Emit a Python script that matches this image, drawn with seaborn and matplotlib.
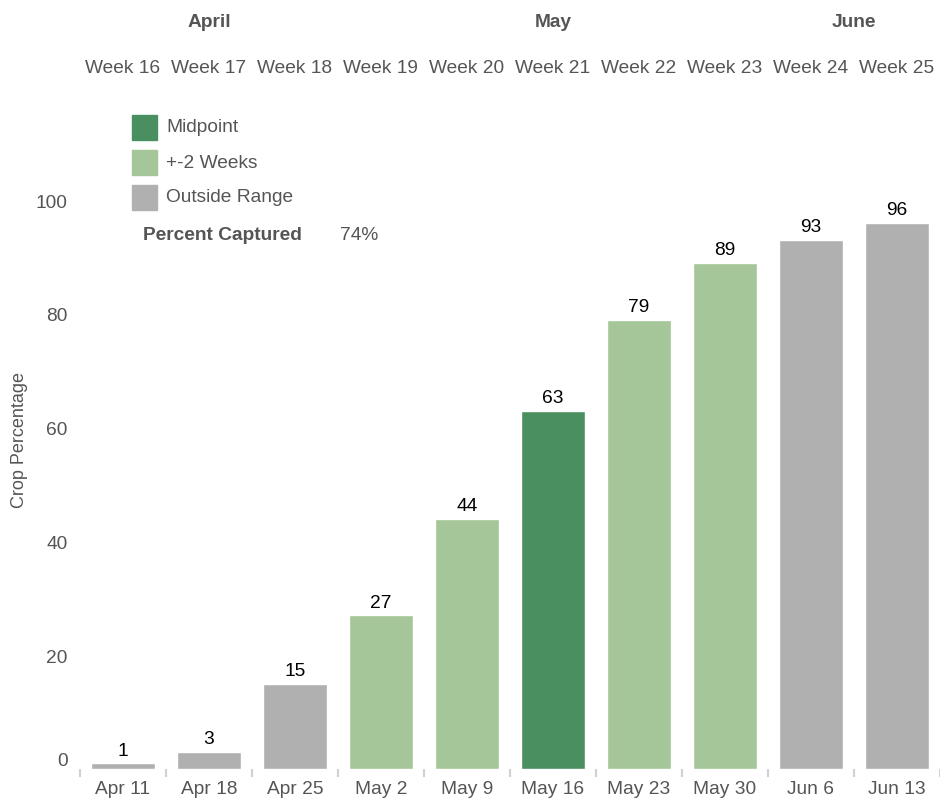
import matplotlib
matplotlib.use("Agg")
import matplotlib.pyplot as plt
import seaborn as sns
import pandas as pd
import numpy as np

# data
dates = ["Apr 11", "Apr 18", "Apr 25", "May 2", "May 9", "May 16",
         "May 23", "May 30", "Jun 6", "Jun 13"]
weeks = ["Week 16", "Week 17", "Week 18", "Week 19", "Week 20", "Week 21",
         "Week 22", "Week 23", "Week 24", "Week 25"]
crop_pct = [1, 3, 15, 27, 44, 63, 79, 89, 93, 96]
category = ["Outside Range", "Outside Range", "Outside Range", "+-2 Weeks",
            "+-2 Weeks", "Midpoint", "+-2 Weeks", "+-2 Weeks",
            "Outside Range", "Outside Range"]
month_names = {"Apr": "April", "May": "May", "Jun": "June"}
percent_captured = "74%"

colors = {"Midpoint": "#4a8f60", "+-2 Weeks": "#a4c699", "Outside Range": "#b0b0b0"}
text_gray = "#555555"
fs = 13.8

sns.set_theme(style="white")
plt.rcParams["font.family"] = ["Liberation Sans", "DejaVu Sans"]

df = pd.DataFrame({"date": dates, "week": weeks, "pct": crop_pct, "cat": category})

fig = plt.figure(figsize=(9.4, 8.04), dpi=100)
ax = fig.add_axes([0.085, 0.0423, 0.915, 0.8209])

sns.barplot(data=df, x="date", y="pct", hue="cat", palette=colors,
            dodge=False, width=0.75, ax=ax, legend=False, saturation=1)

ax.set_ylim(0, 116)
ax.set_xlim(-0.5, 9.5)
sns.despine(ax=ax, left=True, bottom=True)

# value labels
for i, v in enumerate(crop_pct):
    ax.text(i, v + 0.8, str(v), ha="center", va="bottom", fontsize=fs, color="black")

# y axis
ax.set_yticks([0, 20, 40, 60, 80, 100])
ax.set_yticklabels(["0", "20", "40", "60", "80", "100"])
ax.tick_params(axis="y", length=0, labelsize=fs, labelcolor=text_gray, pad=9)
ax.get_yticklabels()[0].set_verticalalignment("bottom")
ax.set_ylabel("Crop Percentage", fontsize=13, color=text_gray)
ax.yaxis.set_label_coords(-0.06, 0.5)

# x axis: labels centered, separator ticks at boundaries
ax.set_xlabel("")
ax.tick_params(axis="x", which="major", length=0, labelsize=fs, labelcolor=text_gray, pad=8)
ax.set_xticks(np.arange(-0.5, 10, 1), minor=True)
ax.tick_params(axis="x", which="minor", length=6, width=1.5, color="#d0d0d0", bottom=True, direction="out")

# week labels and month headers above the plot
trans = ax.get_xaxis_transform()
for i, w in enumerate(weeks):
    ax.text(i, 1.0636, w, transform=trans, ha="center", va="center",
            fontsize=fs, color=text_gray, clip_on=False)

df["month"] = df["date"].str[:3].map(month_names)
month_pos = df.reset_index().groupby("month", sort=False)["index"].mean()
for m, pos in month_pos.items():
    ax.text(pos, 1.133, m, transform=trans, ha="center", va="center",
            fontsize=fs, fontweight="bold", color=text_gray, clip_on=False)

# legend drawn as squares + labels
leg_items = ["Midpoint", "+-2 Weeks", "Outside Range"]
for k, name in enumerate(leg_items):
    y_px = 128 + k * 35
    fy = 1 - y_px / 804
    fig.patches.append(plt.Rectangle((132 / 940, fy - 12.5 / 804), 25 / 940, 25 / 804,
                                     transform=fig.transFigure, color=colors[name]))
    fig.text(166 / 940, fy, name, ha="left", va="center", fontsize=fs, color=text_gray)

fig.text(143 / 940, 1 - 235 / 804, "Percent Captured", ha="left", va="center",
         fontsize=fs, fontweight="bold", color=text_gray)
fig.text(340 / 940, 1 - 235 / 804, percent_captured, ha="left", va="center",
         fontsize=fs, color=text_gray)

fig.savefig("out.png", dpi=100)
